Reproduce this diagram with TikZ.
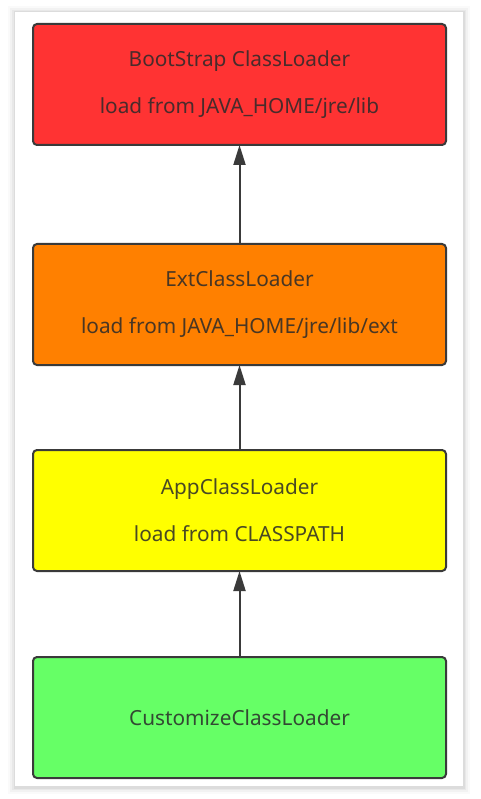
\documentclass[tikz,border=0pt]{standalone}
\usepackage{fontspec}
\setmainfont{Noto Sans}
\usetikzlibrary{arrows.meta,positioning}

\definecolor{bootred}{HTML}{FF3333}
\definecolor{extorange}{HTML}{FF8000}
\definecolor{appyellow}{HTML}{FFFF00}
\definecolor{custgreen}{HTML}{66FF66}
\definecolor{edgegray}{HTML}{3A3A3A}
\definecolor{textgray}{HTML}{2A2A2A}

\begin{document}
\begin{tikzpicture}[
  x=1pt, y=-1pt,
  font=\fontsize{20.8pt}{24pt}\selectfont, >={Triangle[length=20pt, width=12pt]},
  node distance=86pt,
  box/.style={draw=edgegray, line width=2pt, rounded corners=4pt, align=center,
              minimum width=413pt, minimum height=121pt, text=textgray,
              text opacity=0.85, inner sep=0pt, outer sep=0pt},
  link/.style={->, draw=edgegray, line width=2pt},
]
% page and card with soft shadow
\fill[white] (0,0) rectangle (480,799);
\foreach \d/\o in {7/0.02, 5/0.03, 3/0.04, 1.5/0.05}
  \fill[black, opacity=\o] (15-\d,12-\d+1) rectangle (463+\d,786+\d+1);
\fill[white] (15,12) rectangle (463,786);

\node[box, fill=bootred] (boot) at (239.5,84.5)
  {BootStrap ClassLoader\\[23pt]load from JAVA\_HOME/jre/lib};
\node[box, fill=extorange, below=99pt of boot] (ext)
  {ExtClassLoader\\[23pt]load from JAVA\_HOME/jre/lib/ext};
\node[box, fill=appyellow, below=85pt of ext] (app)
  {AppClassLoader\\[23pt]load from CLASSPATH};
\node[box, fill=custgreen, below=of app] (cust) {CustomizeClassLoader};

\draw[link] (ext) -- (boot);
\draw[link] (app) -- (ext);
\draw[link] (cust) -- (app);
\end{tikzpicture}
\end{document}
